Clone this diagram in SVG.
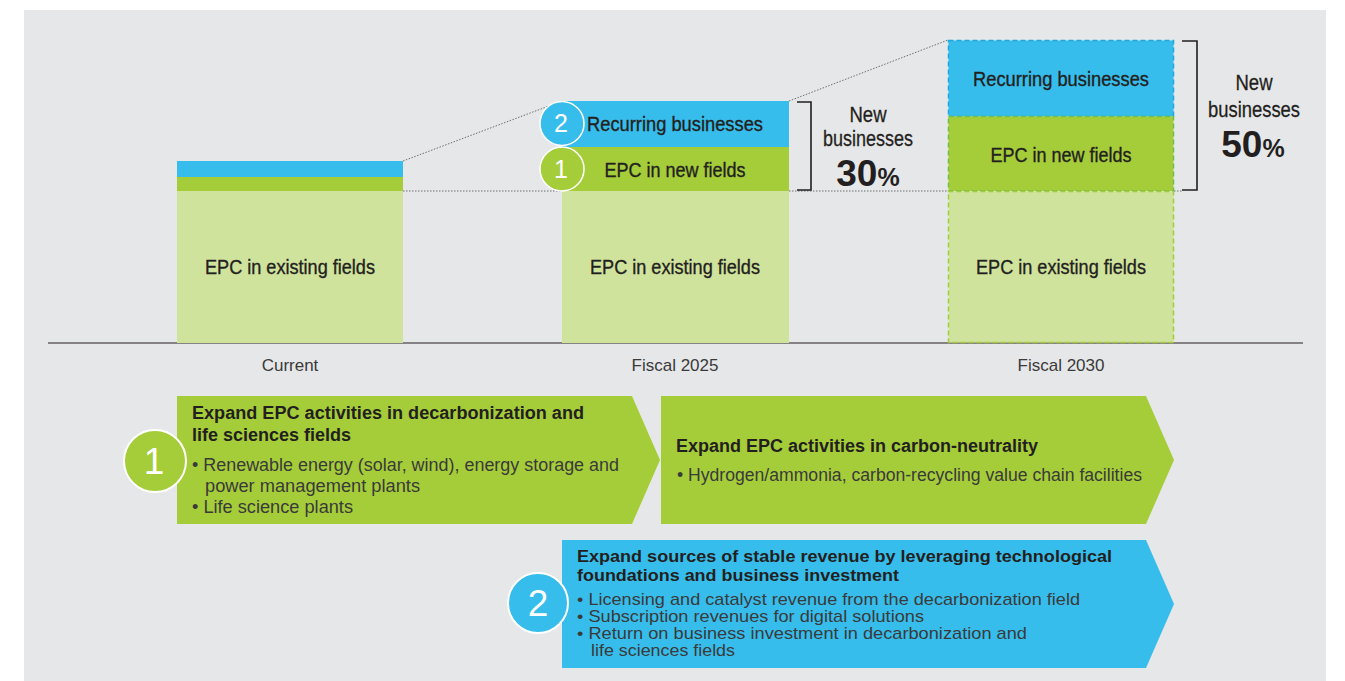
<svg xmlns="http://www.w3.org/2000/svg" width="1345" height="681" viewBox="0 0 1345 681">
<style>
.bar{font-family:"Liberation Sans",Arial,sans-serif;font-size:20px;fill:#231f20;stroke:#231f20;stroke-width:0.35;text-anchor:middle}
.nb{font-family:"Liberation Sans",Arial,sans-serif;font-size:22px;fill:#231f20;stroke:#231f20;stroke-width:0.3;text-anchor:middle}
.pct{font-family:"Liberation Sans",Arial,sans-serif;font-weight:bold;fill:#231f20}
.axis{font-family:"Liberation Sans",Arial,sans-serif;font-size:17px;fill:#3a3a3a;text-anchor:middle}
.ttl{font-family:"Liberation Sans",Arial,sans-serif;font-size:17.5px;font-weight:bold;fill:#231f20}
.txt{font-family:"Liberation Sans",Arial,sans-serif;font-size:17.5px;fill:#3a3a3a}
.ttl2{font-family:"Liberation Sans",Arial,sans-serif;font-size:17px;font-weight:bold;fill:#231f20}
.txt2{font-family:"Liberation Sans",Arial,sans-serif;font-size:17px;fill:#3a3a3a}
.num{font-family:"Liberation Sans",Arial,sans-serif;fill:#fff;text-anchor:middle}
.dot{stroke:#6d6e71;stroke-width:1;stroke-dasharray:1.5 1.5;fill:none}
.brk{stroke:#231f20;stroke-width:1.6;fill:none}
</style>
<rect x="0" y="0" width="1345" height="681" fill="#fff"/>
<rect x="24" y="10" width="1302" height="671" fill="#e6e7e8"/>

<g id="connectors">
  <line class="dot" x1="403" y1="191" x2="562" y2="191"/>
  <line class="dot" x1="789" y1="191" x2="948" y2="191"/>
  <line class="dot" x1="1174" y1="191" x2="1182" y2="191"/>
  <line class="dot" x1="403" y1="161" x2="562" y2="101"/>
  <line class="dot" x1="789" y1="101" x2="948" y2="40"/>
  <line x1="48" y1="343" x2="1303" y2="343" stroke="#231f20" stroke-width="1.2"/>
  <path class="brk" d="M797 102 H811 V190 H797"/>
  <path class="brk" d="M1182 41 H1197 V190 H1182"/>
</g>

<g id="bar-current">
  <rect x="177" y="161" width="226" height="16" fill="#36bdec"/>
  <rect x="177" y="177" width="226" height="14" fill="#a5cd39"/>
  <rect x="177" y="191" width="226" height="152" fill="#d0e39c"/>
  <text class="bar" x="290" y="274" textLength="170" lengthAdjust="spacingAndGlyphs">EPC in existing fields</text>
  <text class="axis" x="290" y="371">Current</text>
</g>

<g id="bar-2025">
  <rect x="562" y="101" width="227" height="46" fill="#36bdec"/>
  <rect x="562" y="147" width="227" height="44" fill="#a5cd39"/>
  <rect x="562" y="191" width="227" height="152" fill="#d0e39c"/>
  <text class="bar" x="675" y="131" textLength="176" lengthAdjust="spacingAndGlyphs">Recurring businesses</text>
  <text class="bar" x="675" y="177" textLength="141" lengthAdjust="spacingAndGlyphs">EPC in new fields</text>
  <text class="bar" x="675" y="274" textLength="170" lengthAdjust="spacingAndGlyphs">EPC in existing fields</text>
  <circle cx="562" cy="123.5" r="22" fill="#36bdec" stroke="#fff" stroke-width="1.5"/>
  <text class="num" x="561" y="132" font-size="25">2</text>
  <circle cx="562" cy="169" r="22" fill="#a5cd39" stroke="#fff" stroke-width="1.5"/>
  <text class="num" x="561" y="178" font-size="25">1</text>
  <text class="axis" x="675" y="371">Fiscal 2025</text>
</g>

<g id="bar-2030">
  <rect x="948.5" y="40.5" width="225" height="76" fill="#36bdec" stroke="#1fa8e0" stroke-width="1.5" stroke-dasharray="5 3"/>
  <rect x="948.5" y="116.5" width="225" height="74.5" fill="#a5cd39" stroke="#6cbf4a" stroke-width="1.5" stroke-dasharray="5 3"/>
  <rect x="948.5" y="191.5" width="225" height="151" fill="#d0e39c" stroke="#a5cd39" stroke-width="1.5" stroke-dasharray="5 3"/>
  <text class="bar" x="1061" y="86" textLength="176" lengthAdjust="spacingAndGlyphs">Recurring businesses</text>
  <text class="bar" x="1061" y="162" textLength="141" lengthAdjust="spacingAndGlyphs">EPC in new fields</text>
  <text class="bar" x="1061" y="274" textLength="170" lengthAdjust="spacingAndGlyphs">EPC in existing fields</text>
  <text class="axis" x="1061" y="371">Fiscal 2030</text>
</g>

<g id="label-30">
  <text class="nb" x="868" y="122" textLength="37" lengthAdjust="spacingAndGlyphs">New</text>
  <text class="nb" x="868" y="146" textLength="90" lengthAdjust="spacingAndGlyphs">businesses</text>
  <text x="868" y="186" text-anchor="middle"><tspan class="pct" font-size="37">30</tspan><tspan class="pct" font-size="25" font-weight="normal">%</tspan></text>
</g>

<g id="label-50">
  <text class="nb" x="1254" y="90" textLength="37" lengthAdjust="spacingAndGlyphs">New</text>
  <text class="nb" x="1254" y="117" textLength="92" lengthAdjust="spacingAndGlyphs">businesses</text>
  <text x="1253" y="157" text-anchor="middle"><tspan class="pct" font-size="37">50</tspan><tspan class="pct" font-size="25" font-weight="normal">%</tspan></text>
</g>

<g id="arrow-1">
  <path d="M177 396 H632 L660 460 L632 524 H177 Z" fill="#a5cd39"/>
  <text class="ttl" x="192" y="419" textLength="392" lengthAdjust="spacingAndGlyphs">Expand EPC activities in decarbonization and</text>
  <text class="ttl" x="192" y="441" textLength="159" lengthAdjust="spacingAndGlyphs">life sciences fields</text>
  <text class="txt" x="192" y="471" textLength="427" lengthAdjust="spacingAndGlyphs">• Renewable energy (solar, wind), energy storage and</text>
  <text class="txt" x="205" y="492" textLength="215" lengthAdjust="spacingAndGlyphs">power management plants</text>
  <text class="txt" x="192" y="513" textLength="161" lengthAdjust="spacingAndGlyphs">• Life science plants</text>
  <circle cx="155" cy="461" r="31" fill="#a5cd39" stroke="#fff" stroke-width="2"/>
  <text class="num" x="154" y="474" font-size="37">1</text>
</g>

<g id="arrow-1b">
  <path d="M661 396 H1146 L1174 460 L1146 524 H661 Z" fill="#a5cd39"/>
  <text class="ttl" x="676" y="452" textLength="362" lengthAdjust="spacingAndGlyphs">Expand EPC activities in carbon-neutrality</text>
  <text class="txt" x="677" y="481" textLength="465" lengthAdjust="spacingAndGlyphs">• Hydrogen/ammonia, carbon-recycling value chain facilities</text>
</g>

<g id="arrow-2">
  <path d="M562 540 H1146 L1174 604 L1146 668 H562 Z" fill="#36bdec"/>
  <text class="ttl2" x="577" y="562" textLength="535" lengthAdjust="spacingAndGlyphs">Expand sources of stable revenue by leveraging technological</text>
  <text class="ttl2" x="577" y="581" textLength="322" lengthAdjust="spacingAndGlyphs">foundations and business investment</text>
  <text class="txt2" x="577" y="605" textLength="503" lengthAdjust="spacingAndGlyphs">• Licensing and catalyst revenue from the decarbonization field</text>
  <text class="txt2" x="577" y="622" textLength="347" lengthAdjust="spacingAndGlyphs">• Subscription revenues for digital solutions</text>
  <text class="txt2" x="577" y="639" textLength="450" lengthAdjust="spacingAndGlyphs">• Return on business investment in decarbonization and</text>
  <text class="txt2" x="591" y="656" textLength="144" lengthAdjust="spacingAndGlyphs">life sciences fields</text>
  <circle cx="538" cy="603" r="30" fill="#36bdec" stroke="#fff" stroke-width="2"/>
  <text class="num" x="538" y="616" font-size="37">2</text>
</g>
</svg>
